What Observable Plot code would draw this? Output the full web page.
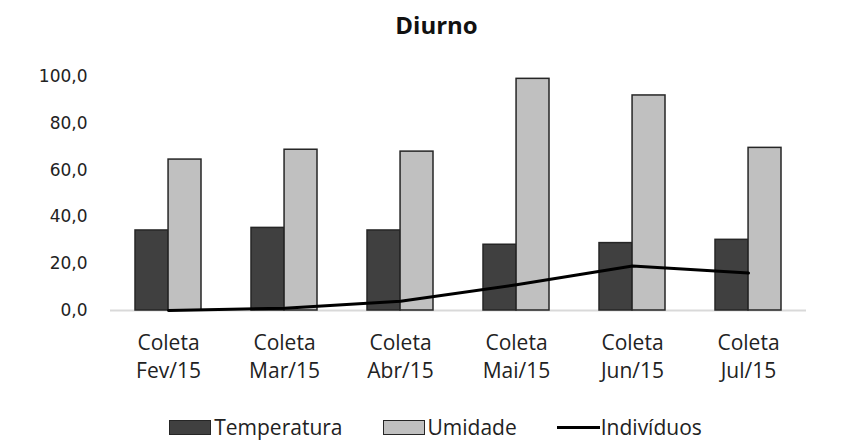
<!DOCTYPE html>
<html>
<head>
<meta charset="utf-8">
<script src="https://cdn.jsdelivr.net/npm/d3@7"></script>
<script src="https://cdn.jsdelivr.net/npm/@observablehq/plot@0.6"></script>
<style>
  body { margin: 0; background: #fff; font-family: "Open Sans", sans-serif; }
  #wrap { width: 859px; height: 440px; position: relative; overflow: hidden; }
  #title { height: 50px; text-align: center; font-weight: bold; font-size: 24px; line-height: 50px; color: #111; padding-left: 14px; box-sizing: border-box; }
  #legend { display: flex; justify-content: center; align-items: center; gap: 40px; margin-top: 19px; font-size: 21px; color: #222; padding-left: 12px; line-height: 26px; }
  .item { display: flex; align-items: center; }
  .sw { width: 40px; height: 13px; border: 1.5px solid #262626; margin-right: 3px; }
  .ln { width: 43px; height: 3px; background: #000; margin-right: 1px; }
</style>
</head>
<body>
<div id="wrap">
  <div id="title">Diurno</div>
  <div id="chart"></div>
  <div id="legend"></div>
</div>
<script>
const categories = ["Fev/15", "Mar/15", "Abr/15", "Mai/15", "Jun/15", "Jul/15"];
const temperatura = [34.2, 35.3, 34.2, 28.1, 28.8, 30.2];
const umidade = [64.5, 68.7, 67.9, 99.0, 91.9, 69.5];
const individuos = [0, 1, 4, 11, 19, 16];
const yTicks = [0, 20, 40, 60, 80, 100];
const seriesNames = ["Temperatura", "Umidade", "Indivíduos"];
const colors = { Temperatura: "#404040", Umidade: "#c0c0c0", "Indivíduos": "#000" };

const rows = categories.map((c, i) => ({ cat: c, t: temperatura[i], u: umidade[i], n: individuos[i] }));

const marginLeft = 110, marginRight = 53, width = 859;
const paddingInner = 0.43;
const step = (width - marginLeft - marginRight) / categories.length;
const half = step * (1 - paddingInner) / 2;

const chart = Plot.plot({
  width,
  height: 345,
  marginLeft,
  marginRight,
  marginTop: 26,
  marginBottom: 85,
  style: { fontFamily: "'Open Sans', sans-serif", fontSize: "21px", color: "#222", background: "#fff" },
  x: { domain: categories, paddingInner, paddingOuter: paddingInner / 2, label: null, axis: null },
  y: { domain: [0, 100], label: null, axis: null },
  marks: [
    Plot.ruleY([0], { stroke: "#d9d9d9", strokeWidth: 2 }),
    Plot.barY(rows, { x: "cat", y: "t", fill: colors.Temperatura, stroke: "#262626", strokeWidth: 1.5, insetRight: half }),
    Plot.barY(rows, { x: "cat", y: "u", fill: colors.Umidade, stroke: "#262626", strokeWidth: 1.5, insetLeft: half }),
    Plot.line(rows, { x: "cat", y: "n", stroke: "#000", strokeWidth: 3 }),
    Plot.axisY({ ticks: yTicks, tickSize: 0, tickPadding: 23, tickFormat: d => d.toFixed(1).replace(".", ","), label: null,
      fontFamily: "'DejaVu Sans', sans-serif", fontSize: 17, letterSpacing: 1, fill: "#222" }),
    Plot.axisX({ tickSize: 0, tickPadding: 25, tickFormat: () => "Coleta", label: null, fontSize: 21 }),
    Plot.axisX({ tickSize: 0, tickPadding: 53, tickFormat: d => d, label: null, fontSize: 21 })
  ]
});
document.getElementById("chart").appendChild(chart);

const legend = document.getElementById("legend");
seriesNames.forEach(name => {
  const item = document.createElement("div");
  item.className = "item";
  const sw = document.createElement("div");
  if (name === "Indivíduos") {
    sw.className = "ln";
  } else {
    sw.className = "sw";
    sw.style.background = colors[name];
  }
  const label = document.createElement("span");
  label.textContent = name;
  item.appendChild(sw);
  item.appendChild(label);
  legend.appendChild(item);
});
</script>
</body>
</html>
